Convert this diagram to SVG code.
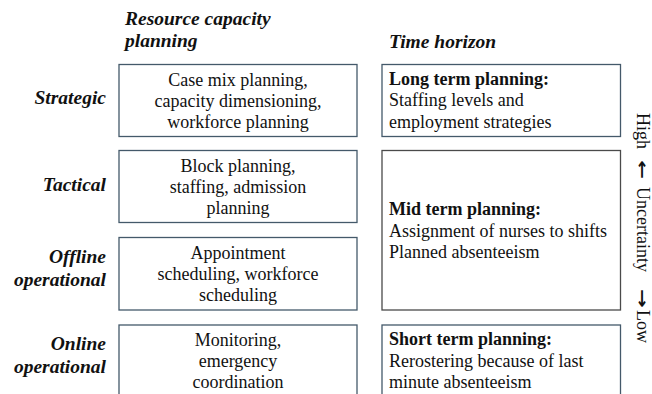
<svg xmlns="http://www.w3.org/2000/svg" width="652" height="394" viewBox="0 0 652 394">
  <style>
    .hdr { font-family: "Liberation Serif", "DejaVu Serif", serif; font-size: 19.5px; font-weight: bold; font-style: italic; fill: #111; }
    .lbl { font-family: "Liberation Serif", "DejaVu Serif", serif; font-size: 19.5px; font-weight: bold; font-style: italic; fill: #111; text-anchor: end; }
    .txt { font-family: "Liberation Serif", "DejaVu Serif", serif; font-size: 18px; fill: #111; }
    .mid { text-anchor: middle; }
    .b { font-weight: bold; }
    .box { fill: #fff; stroke: #44596a; stroke-width: 1.3; }
    .box2 { fill: #fff; stroke: #4a4a4a; stroke-width: 1.3; }
    .arr { font-family: "DejaVu Sans", sans-serif; font-size: 16px; font-weight: bold; fill: #111; text-anchor: middle; }
  </style>

  <!-- column headers -->
  <g id="headers">
    <text class="hdr" x="125" y="25">Resource capacity</text>
    <text class="hdr" x="125" y="47">planning</text>
    <text class="hdr" x="389" y="48">Time horizon</text>
  </g>

  <!-- row labels -->
  <g id="row-labels">
    <text class="lbl" x="106" y="104">Strategic</text>
    <text class="lbl" x="106" y="190.5">Tactical</text>
    <text class="lbl" x="106" y="263">Offline</text>
    <text class="lbl" x="106" y="286">operational</text>
    <text class="lbl" x="106" y="349.5">Online</text>
    <text class="lbl" x="106" y="373">operational</text>
  </g>

  <!-- resource capacity planning column -->
  <g id="strategic">
    <rect class="box" x="119" y="64.5" width="238" height="72"/>
    <text class="txt mid" x="238" y="86">Case mix planning,</text>
    <text class="txt mid" x="238" y="107">capacity dimensioning,</text>
    <text class="txt mid" x="238" y="128">workforce planning</text>
  </g>
  <g id="tactical">
    <rect class="box" x="119" y="150.5" width="238" height="72"/>
    <text class="txt mid" x="238" y="172">Block planning,</text>
    <text class="txt mid" x="238" y="193">staffing, admission</text>
    <text class="txt mid" x="238" y="214">planning</text>
  </g>
  <g id="offline-operational">
    <rect class="box" x="119" y="237.5" width="238" height="72.5"/>
    <text class="txt mid" x="238" y="259">Appointment</text>
    <text class="txt mid" x="238" y="280">scheduling, workforce</text>
    <text class="txt mid" x="238" y="301">scheduling</text>
  </g>
  <g id="online-operational">
    <rect class="box" x="119" y="325" width="238" height="100"/>
    <text class="txt mid" x="238" y="346">Monitoring,</text>
    <text class="txt mid" x="238" y="367">emergency</text>
    <text class="txt mid" x="238" y="388">coordination</text>
  </g>

  <!-- time horizon column -->
  <g id="long-term">
    <rect class="box" x="382" y="64.5" width="238.5" height="72"/>
    <text class="txt b" x="389" y="84.5">Long term planning:</text>
    <text class="txt" x="389" y="106">Staffing levels and</text>
    <text class="txt" x="389" y="127.5">employment strategies</text>
  </g>
  <g id="mid-term">
    <rect class="box2" x="382" y="150.5" width="238.5" height="159.5"/>
    <text class="txt b" x="389" y="215">Mid term planning:</text>
    <text class="txt" x="389" y="236.5">Assignment of nurses to shifts</text>
    <text class="txt" x="389" y="258">Planned absenteeism</text>
  </g>
  <g id="short-term">
    <rect class="box" x="382" y="325" width="238.5" height="100"/>
    <text class="txt b" x="389" y="345">Short term planning:</text>
    <text class="txt" x="389" y="366.5">Rerostering because of last</text>
    <text class="txt" x="389" y="388">minute absenteeism</text>
  </g>

  <!-- vertical uncertainty scale; arrow glyphs stretched along the reading direction -->
  <g id="uncertainty" transform="translate(637,0) rotate(90)">
    <text class="txt" x="113" y="0">High</text>
    <text class="arr" transform="translate(169.5,0) scale(1.4,1)" x="0" y="0">←</text>
    <text class="txt" x="187" y="0">Uncertainty</text>
    <text class="arr" transform="translate(298.5,0) scale(1.4,1)" x="0" y="0">→</text>
    <text class="txt" x="310" y="0">Low</text>
  </g>
</svg>
